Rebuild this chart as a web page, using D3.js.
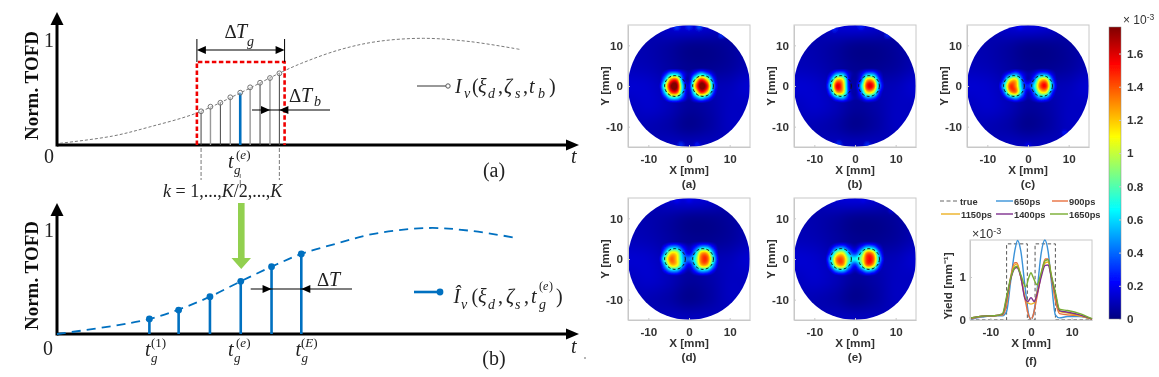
<!DOCTYPE html>
<html>
<head>
<meta charset="utf-8">
<script src="https://cdn.jsdelivr.net/npm/d3@7"></script>
<style>
  html, body { margin: 0; padding: 0; background: #fff; }
  svg { display: block; }
  .serif { font-family: "Liberation Serif", serif; fill: #222; }
  .sans { font-family: "Liberation Sans", sans-serif; font-weight: bold; fill: #333; }
</style>
</head>
<body>
<div id="chart-area"></div>
<script>
// schematic (a)
var curveA_t = [0.06, 1.07, 1.79, 2.66, 3.52, 4.28, 4.68, 5.40, 6.12, 7.02, 7.92, 8.86];
var curveA_v = [0.016, 0.084, 0.171, 0.296, 0.489, 0.676, 0.763, 0.888, 0.966, 0.997, 0.966, 0.894];
var binT = [2.76, 2.94, 3.13, 3.32, 3.51, 3.70, 3.89, 4.08, 4.26];
var binV = [0.315, 0.358, 0.395, 0.446, 0.489, 0.539, 0.582, 0.626, 0.670];
var windowT = [2.68, 4.36];
var windowTop = 0.776;

// schematic (b)
var curveB_t = [0, 1.06, 1.77, 2.36, 2.93, 3.52, 4.11, 4.68, 5.39, 6.10, 7.12, 7.90, 8.78];
var curveB_v = [0, 0.075, 0.142, 0.236, 0.352, 0.497, 0.635, 0.755, 0.858, 0.948, 1.0, 0.975, 0.908];
var gateT = [1.77, 2.33, 2.93, 3.52, 4.11, 4.68];
var gateV = [0.142, 0.226, 0.352, 0.497, 0.635, 0.755];

// reconstructions, 1e-3 units. centre grid: x -7.5..7.5, y 4.5..-4.5, step 1.5
var edgeRow = [0.02, 0.02, 0.02, 0.02, 0.02, 0.02, 0.02, 0.02, 0.02, 0.02, 0.02];
var gridA = [edgeRow,
  [0.03, 0.22, 0.55, 0.55, 0.22, 0.08, 0.32, 0.6, 0.4, 0.14, 0.03],
  [0.04, 0.55, 1.35, 1.4, 0.35, 0.1, 0.9, 1.5, 1.15, 0.35, 0.04],
  [0.08, 0.85, 1.72, 1.74, 0.55, 0.18, 1.2, 1.82, 1.55, 0.5, 0.07],
  [0.04, 0.6, 1.4, 1.45, 0.5, 0.12, 0.85, 1.5, 1.2, 0.35, 0.04],
  [0.03, 0.22, 0.6, 0.62, 0.28, 0.08, 0.34, 0.58, 0.4, 0.13, 0.03],
  edgeRow];
var gridB = [edgeRow,
  [0.03, 0.18, 0.48, 0.5, 0.15, 0.05, 0.16, 0.46, 0.46, 0.16, 0.03],
  [0.04, 0.45, 1.2, 1.1, 0.2, 0.05, 0.32, 1.2, 1.15, 0.35, 0.04],
  [0.07, 0.65, 1.58, 1.25, 0.22, 0.05, 0.55, 1.5, 1.48, 0.5, 0.07],
  [0.04, 0.45, 1.25, 1.15, 0.25, 0.05, 0.38, 1.15, 1.05, 0.3, 0.04],
  [0.03, 0.14, 0.42, 0.5, 0.2, 0.07, 0.16, 0.42, 0.36, 0.13, 0.03],
  edgeRow];
var gridC = [edgeRow,
  [0.03, 0.13, 0.32, 0.45, 0.2, 0.08, 0.16, 0.4, 0.4, 0.16, 0.03],
  [0.04, 0.33, 1.05, 1.15, 0.4, 0.1, 0.38, 1.12, 1.18, 0.38, 0.04],
  [0.07, 0.6, 1.42, 1.28, 0.5, 0.28, 0.62, 1.38, 1.48, 0.55, 0.07],
  [0.05, 0.38, 1.18, 1.32, 0.55, 0.12, 0.42, 1.05, 1.1, 0.32, 0.04],
  [0.03, 0.13, 0.36, 0.5, 0.25, 0.08, 0.2, 0.45, 0.4, 0.13, 0.03],
  edgeRow];
var gridD = [edgeRow,
  [0.03, 0.22, 0.46, 0.46, 0.22, 0.1, 0.24, 0.48, 0.48, 0.22, 0.03],
  [0.04, 0.5, 1.1, 1.05, 0.45, 0.18, 0.52, 1.2, 1.2, 0.52, 0.05],
  [0.09, 0.8, 1.36, 1.15, 0.55, 0.42, 0.72, 1.36, 1.42, 0.72, 0.1],
  [0.05, 0.52, 1.15, 1.1, 0.5, 0.2, 0.58, 1.2, 1.2, 0.52, 0.07],
  [0.03, 0.22, 0.46, 0.46, 0.2, 0.08, 0.26, 0.5, 0.46, 0.2, 0.03],
  edgeRow];
var gridE = [edgeRow,
  [0.03, 0.13, 0.34, 0.4, 0.2, 0.1, 0.26, 0.5, 0.44, 0.16, 0.03],
  [0.04, 0.33, 0.95, 1.05, 0.5, 0.28, 0.66, 1.32, 1.2, 0.42, 0.04],
  [0.07, 0.6, 1.32, 1.36, 0.8, 0.65, 0.92, 1.48, 1.42, 0.58, 0.07],
  [0.05, 0.44, 1.15, 1.26, 0.6, 0.28, 0.72, 1.36, 1.2, 0.38, 0.04],
  [0.03, 0.16, 0.44, 0.5, 0.25, 0.1, 0.26, 0.5, 0.4, 0.13, 0.03],
  edgeRow];

// background field, x -15..15, y 15..-15, step 5
var bgGrid = [
  [0.09, 0.09, 0.14, 0.16, 0.14, 0.09, 0.09],
  [0.09, 0.08, 0.06, 0.03, 0.03, 0.05, 0.09],
  [0.10, 0.09, 0.06, 0.03, 0.03, 0.05, 0.09],
  [0.14, 0.13, 0.09, 0.07, 0.09, 0.10, 0.14],
  [0.11, 0.13, 0.10, 0.05, 0.07, 0.11, 0.11],
  [0.09, 0.09, 0.07, 0.03, 0.06, 0.11, 0.11],
  [0.09, 0.09, 0.11, 0.11, 0.11, 0.09, 0.09]
];
var rimA = [[-3, 14.4, 0.32], [0, 14.6, 0.3], [2.5, 14.5, 0.38], [8, 12.5, 0.3], [-2, -14.5, 0.3], [2, -14.5, 0.25]];
var rimB = [[-5, 14, 0.26], [1.5, 14.6, 0.26], [8, 12.5, 0.28], [-4, -14.2, 0.3], [3, -14.5, 0.3]];
var rimC = [[-2, 14.6, 0.22], [9, -11.5, 0.24], [0, -14.6, 0.2]];
var rimD = [[0, 14.6, 0.2], [-3, 14.4, 0.2]];
var rimE = [[2, 14.6, 0.18], [9, 12, 0.18]];
var trueCentres = [-3.45, 3.45];
var trueRadius = 2.55;

var panels = [
  { label: "(a)", grid: gridA, rim: rimA, x0: 628, y0: 25 },
  { label: "(b)", grid: gridB, rim: rimB, x0: 794, y0: 25 },
  { label: "(c)", grid: gridC, rim: rimC, x0: 967, y0: 25 },
  { label: "(d)", grid: gridD, rim: rimD, x0: 628, y0: 198 },
  { label: "(e)", grid: gridE, rim: rimE, x0: 794, y0: 198 }
];

// profiles (f)
var trueX = [-15, -6, -6, -0.9, -0.9, 1, 1, 6, 6, 15];
var trueY = [0, 0, 1.77, 1.77, 0, 0, 1.77, 1.77, 0, 0];
var x650 = [-15, -12, -9, -7, -6, -5, -4, -3.3, -2.5, -1.5, -0.5, 0, 0.5, 1.5, 2.5, 3.4, 4.2, 5, 6, 7, 9, 12, 15];
var y650 = [0.02, 0.07, 0.1, 0.1, 0.2, 0.9, 1.6, 1.85, 1.6, 0.8, 0.1, 0.02, 0.1, 0.7, 1.55, 1.86, 1.6, 0.9, 0.12, 0.05, 0.08, 0.08, 0.02];
var x900 = [-15, -12, -9, -7, -6, -5, -4, -3.5, -2.5, -1.5, -0.5, 0, 0.5, 1.5, 2.5, 3.5, 4.2, 5, 6, 7, 9, 12, 15];
var y900 = [0.03, 0.08, 0.1, 0.12, 0.35, 1.0, 1.33, 1.33, 1.0, 0.5, 0.08, 0.02, 0.1, 0.55, 1.05, 1.42, 1.42, 1.0, 0.45, 0.15, 0.12, 0.1, 0.02];
var x1150 = [-15, -12, -9, -7, -6, -5, -4, -3.5, -2.5, -1.5, -0.8, 0, 0.8, 1.5, 2.5, 3.5, 4.2, 5, 6, 7, 9, 12, 15];
var y1150 = [0.04, 0.09, 0.1, 0.12, 0.45, 0.95, 1.28, 1.3, 1.0, 0.55, 0.4, 0.37, 0.4, 0.65, 1.05, 1.33, 1.35, 1.0, 0.55, 0.2, 0.16, 0.1, 0.02];
var y1400 = [0.04, 0.09, 0.1, 0.13, 0.5, 0.95, 1.2, 1.22, 1.0, 0.5, 0.43, 0.52, 0.43, 0.6, 1.0, 1.27, 1.28, 1.0, 0.6, 0.22, 0.18, 0.12, 0.02];
var x1650 = [-15, -12, -9, -7, -6, -5, -4, -3.5, -2.5, -1.3, -0.5, 0, 0.5, 1.5, 2.5, 3.5, 4.2, 5, 6, 7, 9, 12, 15];
var y1650 = [0.04, 0.09, 0.1, 0.15, 0.55, 0.98, 1.22, 1.25, 1.05, 0.77, 1.0, 1.1, 1.0, 0.82, 1.1, 1.38, 1.4, 1.05, 0.65, 0.25, 0.22, 0.15, 0.03];

var cbarTicks = [0, 0.2, 0.4, 0.6, 0.8, 1, 1.2, 1.4, 1.6];
var jetStops = [0, 0.22, 0.66, 1.1, 1.54, 1.76];
var jetColors = ["#000080", "#0000ff", "#00ffff", "#ffff00", "#ff0000", "#800000"];

var width = 1159;
var height = 377;
var svg = d3.select("#chart-area").append("svg")
  .attr("width", width)
  .attr("height", height);
var defs = svg.append("defs");
defs.append("filter").attr("id", "soft")
  .attr("x", "-5%").attr("y", "-5%").attr("width", "110%").attr("height", "110%")
  .append("feGaussianBlur").attr("stdDeviation", 0.55);
defs.append("filter").attr("id", "spot")
  .attr("x", "-100%").attr("y", "-100%").attr("width", "300%").attr("height", "300%")
  .append("feGaussianBlur").attr("stdDeviation", 1.5);
var root = svg.append("g").attr("filter", "url(#soft2)");
defs.append("filter").attr("id", "soft2")
  .attr("x", 0).attr("y", 0).attr("width", width).attr("height", height)
  .attr("filterUnits", "userSpaceOnUse")
  .append("feGaussianBlur").attr("stdDeviation", 0.4);

var jet = d3.scaleLinear().domain(jetStops).range(jetColors).clamp(true);

// ---------- left schematics ----------
var xT = d3.scaleLinear().domain([0, 10]).range([57, 579]);
var yA = d3.scaleLinear().domain([0, 1]).range([145, 38]);
var yB = d3.scaleLinear().domain([0, 1]).range([334, 228]);
var lineGen = (ys) => d3.line().x(d => xT(d[0])).y(d => ys(d[1])).curve(d3.curveCatmullRom);

function serif(x, y, str, size, italic, anchor) {
  return root.append("text").attr("class", "serif")
    .attr("x", x).attr("y", y)
    .attr("font-size", size)
    .attr("font-style", italic ? "italic" : "normal")
    .attr("text-anchor", anchor || "start")
    .text(str);
}

function drawAxes(ys, top) {
  var x0 = xT(0), y0 = ys(0), xEnd = xT(10);
  root.append("line").attr("x1", x0).attr("x2", xEnd - 8).attr("y1", y0).attr("y2", y0)
    .attr("stroke", "#000").attr("stroke-width", 3);
  root.append("line").attr("x1", x0).attr("x2", x0).attr("y1", y0 + 1.5).attr("y2", top + 8)
    .attr("stroke", "#000").attr("stroke-width", 3);
  root.append("path").attr("d", `M${x0},${top}L${x0 + 6.5},${top + 13}L${x0 - 6.5},${top + 13}Z`);
  root.append("path").attr("d", `M${xEnd},${y0}L${xEnd - 13},${y0 + 5.5}L${xEnd - 13},${y0 - 5.5}Z`);
  root.append("text").attr("class", "serif")
    .attr("transform", `translate(38,${(y0 + top) / 2 + 7}) rotate(-90)`)
    .attr("text-anchor", "middle").attr("font-size", 19).attr("font-weight", "bold")
    .style("fill", "#111")
    .text("Norm. TOFD");
}

function arrowLine(x1, x2, y, tipR, tipL) {
  root.append("line").attr("x1", x1).attr("x2", x2).attr("y1", y).attr("y2", y)
    .attr("stroke", "#000").attr("stroke-width", 1.2);
  if (tipR != null) root.append("path").attr("d", `M${tipR},${y}L${tipR - 9},${y - 4}L${tipR - 9},${y + 4}Z`);
  if (tipL != null) root.append("path").attr("d", `M${tipL},${y}L${tipL + 9},${y - 4}L${tipL + 9},${y + 4}Z`);
}

function tgLabel(xt, yBase, sup, xSup) {
  serif(xt, yBase, "t", 20, true);
  serif(xt + 6, yBase + 6, "g", 13, true);
  var s = serif(xSup, yBase - 9, "", 13, false);
  s.append("tspan").text("(");
  s.append("tspan").attr("font-style", sup === "1" ? "normal" : "italic").text(sup);
  s.append("tspan").text(")");
}

drawAxes(yA, 12);
root.append("path")
  .attr("d", lineGen(yA)(curveA_t.map((t, i) => [t, curveA_v[i]])))
  .attr("fill", "none").attr("stroke", "#555").attr("stroke-width", 0.8).attr("stroke-dasharray", "3 2");

root.selectAll(".bin").data(binT).enter().append("line")
  .attr("x1", d => xT(d)).attr("x2", d => xT(d))
  .attr("y1", yA(0)).attr("y2", (d, i) => yA(binV[i]))
  .attr("stroke", (d, i) => i === 4 ? "#0070c0" : (i % 2 === 0 ? "#444" : "#999"))
  .attr("stroke-width", (d, i) => i === 4 ? 2.6 : (i % 2 === 0 ? 1 : 1.4));
root.selectAll(".binDot").data(binT).enter().append("circle")
  .attr("cx", d => xT(d)).attr("cy", (d, i) => yA(binV[i])).attr("r", 2.4)
  .attr("fill", "#fff").attr("fill-opacity", 0.4).attr("stroke", "#666").attr("stroke-width", 0.9);

root.append("path")
  .attr("d", `M${xT(windowT[0])},${yA(0)}V${yA(windowTop)}H${xT(windowT[1])}V${yA(0)}`)
  .attr("fill", "none").attr("stroke", "#f00000").attr("stroke-width", 2.6).attr("stroke-dasharray", "4.5 2.5");

// window width marker
[xT(windowT[0]), xT(windowT[1])].forEach(x => {
  root.append("line").attr("x1", x).attr("x2", x).attr("y1", 39).attr("y2", 62).attr("stroke", "#000");
});
arrowLine(xT(windowT[0]) + 6, xT(windowT[1]) - 6, 50, xT(windowT[1]), xT(windowT[0]));
serif(224.5, 38, "\u0394", 19, false);
serif(236, 38, "T", 20, true);
serif(247, 46, "g", 14, true);

arrowLine(252, 330, 110, xT(binT[7]), xT(binT[8]));
serif(289, 102, "\u0394", 19, false);
serif(301, 102, "T", 20, true);
serif(314, 106, "b", 14, true);

// legend a
root.append("line").attr("x1", 417).attr("x2", 446).attr("y1", 86).attr("y2", 86).attr("stroke", "#333");
root.append("circle").attr("cx", 448).attr("cy", 86).attr("r", 2.2).attr("fill", "#fff").attr("stroke", "#555");
[[455, 93, "I", 20, true], [464, 98, "v", 14, true], [472, 93, "(", 20, false], [478, 93, "\u03be", 20, true],
 [488, 98, "d", 14, true], [498, 93, ",", 20, false], [504, 93, "\u03b6", 20, true], [515, 98, "s", 14, true],
 [523, 93, ",", 20, false], [529, 93, "t", 20, true], [538, 98, "b", 14, true], [549, 93, ")", 20, false]]
  .forEach(p => serif(p[0], p[1], p[2], p[3], p[4]));

serif(49, 47, "1", 20, false, "middle");
serif(49, 163, "0", 20, false, "middle");
serif(571, 163, "t", 20, true);
serif(494, 177, "(a)", 20, false, "middle");

// guides down to the k labels
[[xT(binT[0]), 148, 180], [xT(binT[8]), 148, 180], [xT(binT[4]), 174, 188]].forEach(g => {
  root.append("line").attr("x1", g[0]).attr("x2", g[0]).attr("y1", g[1]).attr("y2", g[2])
    .attr("stroke", "#555").attr("stroke-width", 0.8).attr("stroke-dasharray", "4 2");
});
tgLabel(228, 168, "e", 236);
var kText = serif(163, 197, "", 18, false);
kText.append("tspan").attr("font-style", "italic").text("k");
kText.append("tspan").text(" = 1,...,");
kText.append("tspan").attr("font-style", "italic").text("K");
kText.append("tspan").text("/2,...,");
kText.append("tspan").attr("font-style", "italic").text("K");

drawAxes(yB, 203);
root.append("path")
  .attr("d", lineGen(yB)(curveB_t.map((t, i) => [t, curveB_v[i]])))
  .attr("fill", "none").attr("stroke", "#0070c0").attr("stroke-width", 1.8).attr("stroke-dasharray", "9 6");
root.selectAll(".gate").data(gateT).enter().append("line")
  .attr("x1", d => xT(d)).attr("x2", d => xT(d))
  .attr("y1", yB(0)).attr("y2", (d, i) => yB(gateV[i]))
  .attr("stroke", "#0070c0").attr("stroke-width", 2.6);
root.selectAll(".gateDot").data(gateT).enter().append("circle")
  .attr("cx", d => xT(d)).attr("cy", (d, i) => yB(gateV[i])).attr("r", 3.4)
  .attr("fill", "#0070c0");

// green arrow between the two schematics
root.append("path")
  .attr("d", `M238,203H244.6V258H251L${xT(gateT[3]) + 0.5},269L231.5,258H238Z`)
  .attr("fill", "#92d050");

arrowLine(250.7, 352, 289, xT(gateT[4]), xT(gateT[5]));
serif(317, 286, "\u0394", 19, false);
serif(329, 286, "T", 20, true);

root.append("line").attr("x1", 414).attr("x2", 440).attr("y1", 292).attr("y2", 292)
  .attr("stroke", "#0070c0").attr("stroke-width", 2.6);
root.append("circle").attr("cx", 440).attr("cy", 292).attr("r", 3.4).attr("fill", "#0070c0");
[[453.5, 303, "\u00ce", 20, true], [461, 309, "v", 14, true], [471.5, 303, "(", 20, false], [478, 303, "\u03be", 20, true],
 [488, 309, "d", 14, true], [498, 303, ",", 20, false], [506, 303, "\u03b6", 20, true], [515, 309, "s", 14, true],
 [524, 303, ",", 20, false], [531, 303, "t", 20, true], [539, 309, "g", 14, true], [539, 290, "(", 12, false],
 [543, 290, "e", 12, true], [549, 290, ")", 12, false], [556, 303, ")", 20, false]]
  .forEach(p => serif(p[0], p[1], p[2], p[3], p[4]));

serif(49, 237, "1", 20, false, "middle");
serif(48, 355, "0", 20, false, "middle");
serif(571, 353, "t", 20, true);
serif(494, 365, "(b)", 20, false, "middle");
tgLabel(145, 356, "1", 151);
tgLabel(228, 356, "e", 236);
tgLabel(295.5, 356, "E", 301);
root.append("circle").attr("cx", 585).attr("cy", 358).attr("r", 0.8).attr("fill", "#555");

// ---------- reconstruction panels ----------
function catmull(p0, p1, p2, p3, f) {
  return 0.5 * (2 * p1 + (p2 - p0) * f + (2 * p0 - 5 * p1 + 4 * p2 - p3) * f * f + (3 * p1 - p0 - 3 * p2 + p3) * f * f * f);
}

// x, y in mm. Rows run from top to bottom of the picture
function sampleGrid(grid, half, step, x, y) {
  var halfY = (grid.length - 1) * step / 2;
  if (Math.abs(x) > half || Math.abs(y) > halfY) return 0;
  var gx = (x + half) / step, gy = (halfY - y) / step;
  var ix = Math.min(Math.floor(gx), grid[0].length - 2), iy = Math.min(Math.floor(gy), grid.length - 2);
  var fx = gx - ix, fy = gy - iy;
  var rows = [];
  for (var j = -1; j <= 2; j++) {
    var r = grid[Math.max(0, Math.min(grid.length - 1, iy + j))];
    var c = [-1, 0, 1, 2].map(k => r[Math.max(0, Math.min(r.length - 1, ix + k))]);
    rows.push(catmull(c[0], c[1], c[2], c[3], fx));
  }
  return catmull(rows[0], rows[1], rows[2], rows[3], fy);
}

function panelImage(grid, size) {
  var canvas = document.createElement("canvas");
  canvas.width = size;
  canvas.height = size;
  var ctx = canvas.getContext("2d");
  var img = ctx.createImageData(size, size);
  var pos = d3.scaleLinear().domain([0, size - 1]).range([-15, 15]);
  for (var py = 0; py < size; py++) {
    for (var px = 0; px < size; px++) {
      var xmm = pos(px), ymm = -pos(py);
      var v = Math.max(sampleGrid(bgGrid, 15, 5, xmm, ymm), sampleGrid(grid, 7.5, 1.5, xmm, ymm));
      var c = d3.rgb(jet(v));
      var k = (py * size + px) * 4;
      img.data[k] = c.r;
      img.data[k + 1] = c.g;
      img.data[k + 2] = c.b;
      img.data[k + 3] = 255;
    }
  }
  ctx.putImageData(img, 0, 0);
  return canvas.toDataURL();
}

function styleAxis(g) {
  g.selectAll(".domain").attr("stroke", "#c8c8c8").attr("stroke-width", 1);
  g.selectAll(".tick line").attr("stroke", "#c8c8c8");
  g.selectAll("text").attr("class", "sans").attr("font-size", 11.7).attr("fill", "#333");
}

var plainTick = d => String(d);

var panelSize = 122;
panels.forEach((p, i) => {
  var x = d3.scaleLinear().domain([-15, 15]).range([0, panelSize]);
  var y = d3.scaleLinear().domain([-15, 15]).range([panelSize, 0]);
  var g = root.append("g").attr("transform", `translate(${p.x0},${p.y0})`);

  defs.append("clipPath").attr("id", "disc" + i)
    .append("circle").attr("cx", x(0)).attr("cy", y(0)).attr("r", panelSize / 2);

  var disc = g.append("g").attr("filter", "url(#soft)").append("g").attr("clip-path", `url(#disc${i})`);
  disc.append("image")
    .attr("width", panelSize).attr("height", panelSize)
    .attr("href", panelImage(p.grid, panelSize));
  disc.selectAll(".rim").data(p.rim).enter().append("circle")
    .attr("cx", d => x(d[0])).attr("cy", d => y(d[1])).attr("r", 2.6)
    .attr("fill", d => jet(d[2])).attr("filter", "url(#spot)");
  disc.selectAll(".truth").data(trueCentres).enter().append("circle")
    .attr("cx", d => x(d)).attr("cy", y(0)).attr("r", x(trueRadius) - x(0))
    .attr("fill", "none").attr("stroke", "#111").attr("stroke-width", 1).attr("stroke-dasharray", "3 2.2");

  g.append("rect").attr("width", panelSize).attr("height", panelSize)
    .attr("fill", "none").attr("stroke", "#c8c8c8");

  g.append("g").attr("transform", `translate(0,${panelSize})`)
    .call(d3.axisBottom(x).tickValues([-10, 0, 10]).tickFormat(plainTick).tickSizeInner(-2).tickSizeOuter(0).tickPadding(8))
    .call(styleAxis);
  g.append("g")
    .call(d3.axisLeft(y).tickValues([-10, 0, 10]).tickFormat(plainTick).tickSizeInner(-2).tickSizeOuter(0).tickPadding(5))
    .call(styleAxis);
  g.append("text").attr("class", "sans").attr("text-anchor", "middle").attr("font-size", 11.7)
    .attr("x", x(0)).attr("y", panelSize + 27).text("X [mm]");
  g.append("text").attr("class", "sans").attr("text-anchor", "middle").attr("font-size", 11.7)
    .attr("x", x(0)).attr("y", panelSize + 41).text(p.label);
  g.append("text").attr("class", "sans").attr("text-anchor", "middle").attr("font-size", 11.7)
    .attr("transform", `translate(-19,${y(0)}) rotate(-90)`).text("Y [mm]");
});

// ---------- profiles (f) ----------
var xF = d3.scaleLinear().domain([-15, 15]).range([970, 1092]);
var yF = d3.scaleLinear().domain([0, 1.86]).range([320, 240]);
var fLine = d3.line().x(d => xF(d[0])).y(d => yF(d[1]));

var profiles = [
  { name: "650ps", xs: x650, ys: y650, color: "#3a92d8", lx: 996, lw: 17, ly: 201 },
  { name: "900ps", xs: x900, ys: y900, color: "#e8703f", lx: 1052, lw: 16, ly: 201 },
  { name: "1150ps", xs: x1150, ys: y1150, color: "#edb120", lx: 941, lw: 19, ly: 214 },
  { name: "1400ps", xs: x1150, ys: y1400, color: "#7e2f8e", lx: 996, lw: 17, ly: 214 },
  { name: "1650ps", xs: x1650, ys: y1650, color: "#77ac30", lx: 1050, lw: 18, ly: 214 }
];

root.append("rect").attr("x", 970).attr("y", 240).attr("width", 122).attr("height", 80)
  .attr("fill", "none").attr("stroke", "#c8c8c8");

root.append("path")
  .attr("d", fLine.curve(d3.curveLinear)(trueX.map((v, i) => [v, trueY[i]])))
  .attr("fill", "none").attr("stroke", "#555").attr("stroke-width", 1).attr("stroke-dasharray", "3.5 2.5");
profiles.forEach(p => {
  root.append("path")
    .attr("d", fLine.curve(d3.curveMonotoneX)(p.xs.map((v, i) => [v, p.ys[i]])))
    .attr("fill", "none").attr("stroke", p.color).attr("stroke-width", 1.4);
});

root.append("g").attr("transform", "translate(0,320)")
  .call(d3.axisBottom(xF).tickValues([-10, 0, 10]).tickFormat(plainTick).tickSizeInner(-2).tickSizeOuter(0).tickPadding(8))
  .call(styleAxis);
root.append("g").attr("transform", "translate(970,0)")
  .call(d3.axisLeft(yF).tickValues([0, 1]).tickFormat(plainTick).tickSizeInner(-2).tickSizeOuter(0).tickPadding(4))
  .call(styleAxis);

function sansText(x, y, str, size, anchor) {
  return root.append("text").attr("class", "sans").attr("x", x).attr("y", y)
    .attr("font-size", size).attr("text-anchor", anchor || "start").text(str);
}
sansText(1031, 347, "X [mm]", 11.7, "middle");
sansText(1031, 365, "(f)", 11.7, "middle");
root.append("text").attr("class", "sans").attr("text-anchor", "middle").attr("font-size", 11.7)
  .attr("transform", "translate(952,286) rotate(-90)").text("Yield [mm\u207b\u00b9]");
var fExp = root.append("text").attr("x", 972).attr("y", 238)
  .attr("font-family", "Liberation Sans").attr("font-size", 12.5).attr("fill", "#333");
fExp.append("tspan").text("\u00d710");
fExp.append("tspan").attr("dy", -4).attr("font-size", 9).text("-3");

root.append("line").attr("x1", 940).attr("x2", 959).attr("y1", 201).attr("y2", 201)
  .attr("stroke", "#666").attr("stroke-width", 1).attr("stroke-dasharray", "4 2.5");
sansText(960, 204.5, "true", 9.3);
profiles.forEach(p => {
  root.append("line").attr("x1", p.lx).attr("x2", p.lx + p.lw).attr("y1", p.ly).attr("y2", p.ly)
    .attr("stroke", p.color).attr("stroke-width", 1.4);
  sansText(p.lx + p.lw + 1, p.ly + 3.5, p.name, 9.3);
});

// ---------- colorbar ----------
var yC = d3.scaleLinear().domain([0, 1.76]).range([319, 27]);
var grad = defs.append("linearGradient").attr("id", "jetBar")
  .attr("x1", 0).attr("x2", 0).attr("y1", 1).attr("y2", 0);
jetStops.forEach((s, i) => {
  grad.append("stop").attr("offset", s / 1.76).attr("stop-color", jetColors[i]);
});
root.append("rect").attr("x", 1109).attr("y", 27).attr("width", 12).attr("height", 292)
  .attr("fill", "url(#jetBar)").attr("stroke", "#888").attr("stroke-width", 0.5);
var cAxis = root.append("g").attr("transform", "translate(1121,0)")
  .call(d3.axisRight(yC).tickValues(cbarTicks).tickFormat(plainTick).tickSizeInner(-2).tickSizeOuter(0).tickPadding(6))
  .call(styleAxis);
cAxis.select(".domain").remove();
var cExp = root.append("text").attr("x", 1123).attr("y", 24)
  .attr("font-family", "Liberation Sans").attr("font-size", 12).attr("fill", "#333");
cExp.append("tspan").text("\u00d7 10");
cExp.append("tspan").attr("dy", -4).attr("font-size", 8.5).text("-3");
</script>
</body>
</html>
